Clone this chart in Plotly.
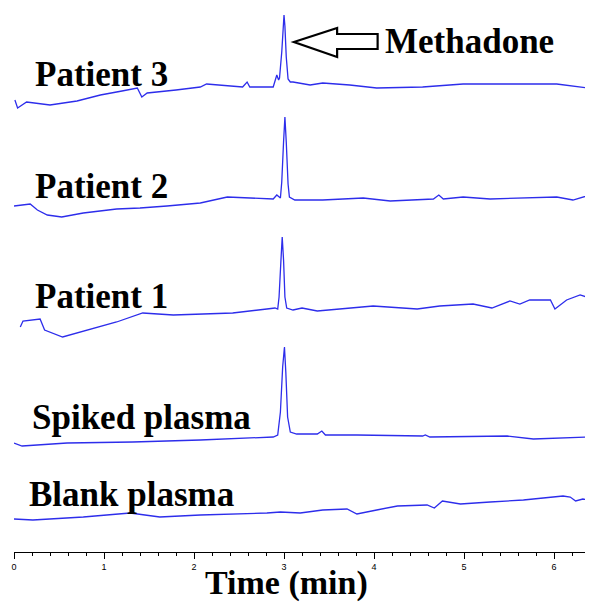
import plotly.graph_objects as go

# ---- data (time in min, stacked detector signal in arbitrary units) ----
p3_t = [0.01, 0.04, 0.14, 0.40, 0.70, 0.96, 1.20, 1.37, 1.42, 1.48, 1.80, 2.07, 2.14, 2.54, 2.59, 2.62, 2.88, 2.92, 2.94,
        2.95, 2.975, 2.99, 3.00, 3.01, 3.025, 3.045, 3.07, 3.10, 3.29, 3.43, 3.73, 4.03, 4.54, 4.99, 5.66, 6.03, 6.37]
p3_y = [452, 444, 450, 447, 451, 457, 461, 464, 455, 459, 462, 465, 468, 465, 470, 465, 465, 477, 472,
        474, 500, 528, 537, 526, 495, 473, 470, 470, 467, 469, 467, 464, 465, 468, 468, 468, 464]

p2_t = [0.00, 0.18, 0.26, 0.37, 0.53, 0.77, 1.14, 1.40, 1.70, 2.07, 2.32, 2.37, 2.88, 2.92, 2.96,
        2.975, 2.995, 3.01, 3.025, 3.045, 3.06, 3.12, 3.43, 3.88, 4.18, 4.66, 4.72, 4.77, 4.99, 5.29, 6.03, 6.21, 6.40]
p2_y = [346, 348, 342, 337, 335, 339, 343, 344, 346, 349, 354, 355, 353, 357, 354,
        370, 410, 435, 410, 368, 355, 352, 352, 354, 351, 353, 357, 353, 355, 353, 355, 352, 357]

p1_t = [0.07, 0.10, 0.29, 0.34, 0.54, 0.81, 1.14, 1.43, 1.77, 2.10, 2.43, 2.81, 2.90, 2.93,
        2.945, 2.965, 2.98, 2.995, 3.01, 3.03, 3.10, 3.20, 3.37, 3.99, 4.48, 4.73, 5.10, 5.31,
        5.51, 5.62, 5.73, 5.96, 6.01, 6.14, 6.29, 6.43]
p1_y = [225, 231, 233, 222, 215, 222, 230, 239, 237, 238, 239, 243, 244, 243,
        255, 290, 315, 292, 255, 244, 242, 244, 241, 246, 243, 246, 248, 244,
        251, 248, 252, 252, 243, 252, 257, 253]

sp_t = [0.00, 0.09, 0.59, 1.32, 2.07, 2.88, 2.93, 2.96, 2.985, 3.005, 3.02, 3.04, 3.07, 3.14,
        3.37, 3.42, 3.46, 3.81, 4.54, 4.57, 4.62, 5.48, 5.77, 6.40]
sp_y = [109, 106, 109, 110, 112, 115, 117, 140, 185, 205, 180, 135, 120, 118,
        118, 121, 117, 117, 116, 117, 115, 116, 113, 115]

bl_t = [0.00, 0.21, 0.77, 1.29, 1.62, 2.07, 2.81, 2.96, 3.18, 3.43, 3.70, 3.81, 4.03, 4.26,
        4.59, 4.67, 4.76, 4.96, 5.29, 5.66, 6.10, 6.18, 6.24, 6.32, 6.43]
bl_y = [33, 32, 35, 39, 35, 37, 39, 40, 39, 42, 43, 38, 42, 46,
        47, 44, 51, 48, 50, 52, 56, 55, 51, 53, 51]

series_names = ["Patient 3", "Patient 2", "Patient 1", "Spiked plasma", "Blank plasma"]
series_t = [p3_t, p2_t, p1_t, sp_t, bl_t]
series_y = [p3_y, p2_y, p1_y, sp_y, bl_y]

tick_vals = [0, 1, 2, 3, 4, 5, 6]
tick_text = ["0", "1", "2", "3", "4", "5", "6"]

LINE = "rgb(45,45,235)"
SERIF = "Liberation Serif, Times New Roman, serif"

fig = go.Figure()
for name, t, y in zip(series_names, series_t, series_y):
    fig.add_trace(go.Scatter(x=t, y=y, mode="lines", name=name,
                             line=dict(color=LINE, width=1.3), hoverinfo="skip"))

# sample labels
label_pos = {"Patient 3": (0.21, 478), "Patient 2": (0.21, 366), "Patient 1": (0.21, 256),
             "Spiked plasma": (0.18, 135), "Blank plasma": (0.14, 58)}
for name in series_names:
    lx, ly = label_pos[name]
    fig.add_annotation(x=lx, y=ly, xref="x", yref="y", text="<b>%s</b>" % name,
                       showarrow=False, xanchor="left", yanchor="middle",
                       font=dict(family=SERIF, size=35, color="black"))

# Methadone label with hollow arrow
fig.add_annotation(x=4.10, y=511, xref="x", yref="y", text="<b>Methadone</b>",
                   showarrow=False, xanchor="left", yanchor="middle",
                   font=dict(family=SERIF, size=35, color="black"))
fig.add_shape(type="path",
              path="M 3.11,510 L 3.59,524 L 3.59,518 L 4.04,518 L 4.04,503 L 3.59,503 L 3.59,495 Z",
              xref="x", yref="y", line=dict(color="black", width=2.2), fillcolor="rgba(0,0,0,0)")

# axis title
fig.add_annotation(x=3.03, y=0, xref="x", yref="paper", text="<b>Time (min)</b>",
                   showarrow=False, xanchor="center", yanchor="middle", yshift=-31,
                   font=dict(family=SERIF, size=34, color="black"))

fig.update_layout(
    width=585, height=594,
    margin=dict(l=6, r=0, t=0, b=50),
    paper_bgcolor="white", plot_bgcolor="white",
    showlegend=False, hovermode=False,
    xaxis=dict(range=[0, 6.433], showgrid=False, zeroline=False,
               showline=True, linecolor="black", linewidth=1.2,
               tickmode="array", tickvals=tick_vals, ticktext=tick_text,
               ticks="outside", ticklen=6, tickwidth=1.2, tickcolor="black",
               tickfont=dict(family="Arial, Liberation Sans, sans-serif", size=9, color="black"),
               minor=dict(dtick=0.2, ticks="outside", ticklen=3, tickwidth=1, tickcolor="black"),
               fixedrange=True),
    yaxis=dict(range=[0, 544], visible=False, fixedrange=True),
)

fig.write_html("out.html")
